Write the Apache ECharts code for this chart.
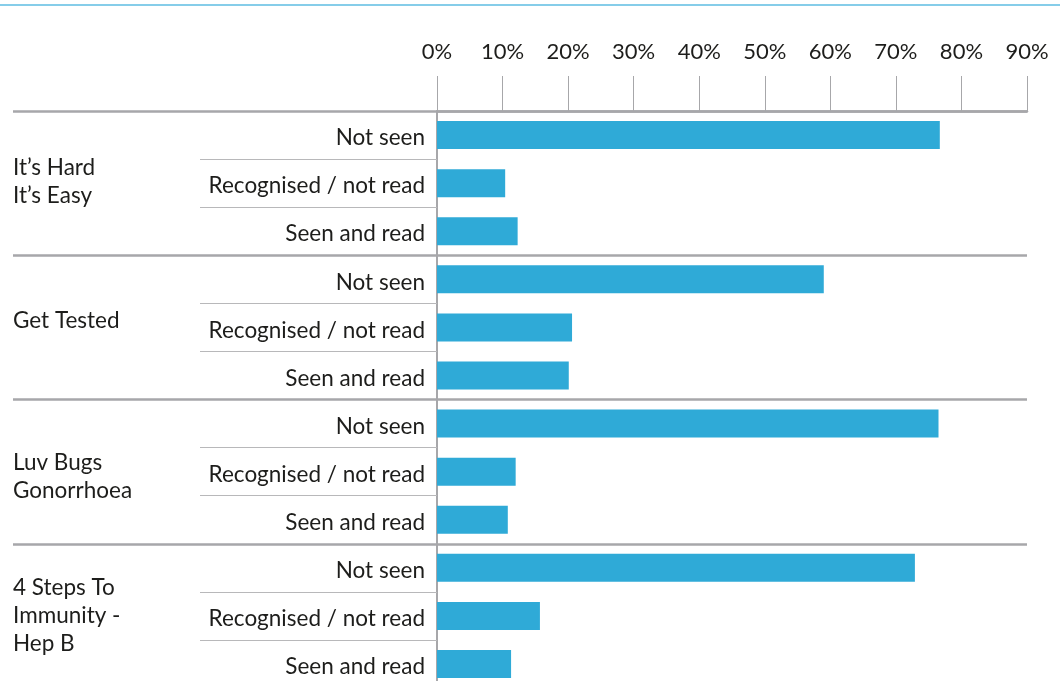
<!DOCTYPE html>
<html>
<head>
<meta charset="utf-8">
<script src="https://cdn.jsdelivr.net/npm/echarts@6/dist/echarts.min.js"></script>
<style>
html,body{margin:0;padding:0;background:#fff;}
#chart{width:1060px;height:681px;}
</style>
</head>
<body>
<div id="chart"></div>
<script>
// Data
const groups = ["It’s Hard\nIt’s Easy", "Get Tested", "Luv Bugs\nGonorrhoea", "4 Steps To\nImmunity -\nHep B"];
const responses = ["Not seen", "Recognised / not read", "Seen and read"];
const itsHardItsEasy = [76.7, 10.4, 12.3];
const getTested = [59.0, 20.6, 20.1];
const luvBugs = [76.5, 12.0, 10.8];
const fourSteps = [72.9, 15.7, 11.3];
const xTicks = [0, 90, 10]; // min, max, interval (percent)

const groupValues = [itsHardItsEasy, getTested, luvBugs, fourSteps];
const rowLabels = [];
const rowValues = [];
groupValues.forEach(vals => {
  vals.forEach((v, i) => { rowLabels.push(responses[i]); rowValues.push(v); });
});

// style: small vertical nudges of group labels (px)
const GROUP_LH = 28;
const groupLabelNudge = [-1, -7, 5, 0];
const groupData = groups.map((g, i) => {
  const lines = g.split('\n').length;
  return {value: g, textStyle: {
    align: 'left', verticalAlign: 'top', lineHeight: GROUP_LH,
    padding: [groupLabelNudge[i] - lines * GROUP_LH / 2, 0, 0, 0]
  }};
});

const lineGray = '#a7a7aa';
const textColor = '#1d1d1b';
const chart = echarts.init(document.getElementById('chart'), null, {renderer: 'canvas'});
chart.setOption({
  animation: false,
  backgroundColor: '#ffffff',
  grid: {left: 437, top: 111, width: 590, height: 577, containLabel: false, outerBoundsMode: 'none'},
  graphic: [{
    type: 'rect', left: 0, top: 4, silent: true,
    shape: {x: 0, y: 0, width: 1060, height: 2},
    style: {fill: '#86cde9'}
  }],
  xAxis: {
    type: 'value', position: 'top',
    min: xTicks[0], max: xTicks[1], interval: xTicks[2],
    axisLine: {show: true, lineStyle: {color: lineGray, width: 2.5}},
    axisTick: {show: true, length: 35, lineStyle: {color: lineGray, width: 1}},
    splitLine: {show: false},
    axisLabel: {
      formatter: '{value}%', margin: 48, fontSize: 22,
      fontFamily: 'Lato, sans-serif', color: textColor
    }
  },
  yAxis: [{
    type: 'category', inverse: true, data: rowLabels, position: 'left',
    axisLine: {show: true, lineStyle: {color: lineGray, width: 2}},
    axisTick: {show: true, length: 237, lineStyle: {color: '#b8b8ba', width: 1}},
    axisLabel: {interval: 0, fontSize: 22.5, fontFamily: 'Lato, sans-serif', color: textColor, margin: 12,
      verticalAlign: 'top', lineHeight: 24, padding: [-9, 0, 0, 0]}
  }, {
    type: 'category', inverse: true, data: groupData, position: 'left',
    axisLine: {show: false},
    axisTick: {show: true, length: 424, lineStyle: {color: lineGray, width: 2.5}},
    splitLine: {show: true, lineStyle: {color: lineGray, width: 2.5}},
    axisLabel: {interval: 0, fontSize: 22.5, fontFamily: 'Lato, sans-serif', color: textColor, margin: 424, align: 'left', lineHeight: GROUP_LH}
  }],
  series: [{
    type: 'bar', xAxisIndex: 0, yAxisIndex: 0, data: rowValues,
    barWidth: 28, itemStyle: {color: '#2faad7'}, silent: true
  }]
});
</script>
</body>
</html>
